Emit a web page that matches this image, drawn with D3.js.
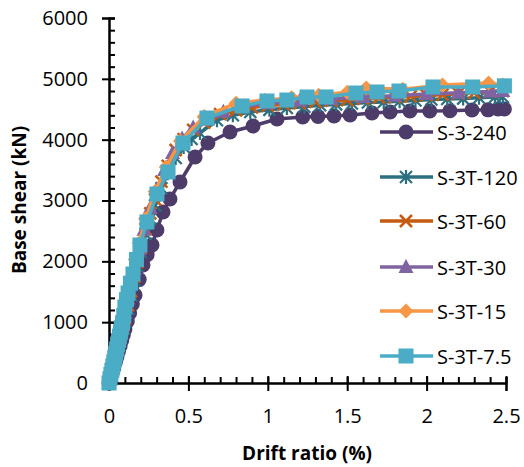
<!DOCTYPE html>
<html>
<head>
<meta charset="utf-8">
<script src="https://cdn.jsdelivr.net/npm/d3@7"></script>
<style>
  body { margin: 0; background: #fff; }
  text { font-family: "Open Sans", sans-serif; }
</style>
</head>
<body>
<script>
"use strict";

// Size of the picture
let w = 524;
let h = 467;

// [drift ratio (%), base shear (kN)]
const s3_240 = [[0,0],[0.01,80],[0.02,165],[0.03,250],[0.04,340],[0.05,430],[0.06,520],[0.07,610],
  [0.08,700],[0.09,790],[0.10,880],[0.115,1010],[0.13,1150],[0.147,1300],[0.164,1447],[0.19,1700],
  [0.214,1940],[0.24,2110],[0.271,2269],[0.302,2515],[0.34,2811],[0.384,3025],[0.447,3304],
  [0.542,3715],[0.623,3945],[0.762,4126],[0.907,4225],[1.058,4340],[1.22,4373],[1.316,4380],
  [1.417,4389],[1.518,4406],[1.656,4439],[1.77,4455],[1.895,4472],[2.02,4472],[2.147,4475],
  [2.286,4488],[2.387,4490],[2.45,4504],[2.49,4504]];

const s3t_120 = [[0,0],[0.01,100],[0.02,200],[0.03,300],[0.04,400],[0.05,500],[0.06,600],[0.07,700],
  [0.08,800],[0.09,900],[0.10,1010],[0.12,1220],[0.14,1440],[0.16,1680],[0.18,1920],[0.20,2150],
  [0.23,2450],[0.26,2700],[0.29,2920],[0.33,3200],[0.37,3450],[0.42,3700],[0.47,3880],[0.52,4010],
  [0.573,4110],[0.68,4320],[0.78,4400],[0.89,4455],[1.01,4490],[1.12,4520],[1.23,4540],[1.33,4565],
  [1.43,4580],[1.53,4595],[1.63,4610],[1.73,4620],[1.83,4630],[1.93,4645],[2.03,4660],[2.13,4670],
  [2.23,4675],[2.33,4688],[2.43,4700],[2.48,4700]];

const s3t_60 = [[0,0],[0.01,105],[0.02,210],[0.03,315],[0.04,420],[0.05,525],[0.06,630],[0.07,735],
  [0.08,840],[0.09,945],[0.10,1060],[0.12,1280],[0.14,1510],[0.16,1750],[0.18,1990],[0.20,2220],
  [0.23,2530],[0.26,2790],[0.29,3020],[0.33,3310],[0.37,3570],[0.42,3830],[0.47,4010],[0.53,4160],
  [0.6,4280],[0.7,4420],[0.8,4480],[0.9,4530],[1.0,4560],[1.1,4580],[1.2,4600],[1.3,4620],
  [1.4,4640],[1.5,4650],[1.6,4670],[1.7,4690],[1.8,4700],[1.9,4710],[2.0,4730],[2.1,4740],
  [2.2,4760],[2.3,4770],[2.4,4790],[2.48,4800]];

const s3t_30 = [[0,0],[0.01,115],[0.02,230],[0.03,345],[0.04,460],[0.05,575],[0.06,690],[0.07,805],
  [0.08,920],[0.09,1035],[0.10,1150],[0.12,1390],[0.14,1630],[0.16,1880],[0.19,2200],[0.22,2520],
  [0.26,2880],[0.30,3180],[0.35,3500],[0.40,3780],[0.46,4020],[0.53,4200],[0.62,4330],[0.72,4460],
  [0.84,4540],[1.0,4600],[1.2,4640],[1.4,4670],[1.6,4700],[1.8,4720],[2.0,4750],[2.2,4770],
  [2.4,4790],[2.48,4800]];

const s3t_15 = [[0,0],[0.01,125],[0.02,250],[0.03,375],[0.04,500],[0.05,625],[0.06,750],[0.07,870],
  [0.08,990],[0.09,1110],[0.10,1230],[0.12,1480],[0.14,1740],[0.165,2030],[0.19,2300],[0.23,2700],
  [0.29,3150],[0.36,3550],[0.45,3980],[0.6,4380],[0.8,4600],[0.98,4650],[1.15,4690],[1.32,4730],
  [1.5,4780],[1.62,4850],[1.85,4830],[2.1,4900],[2.39,4932],[2.48,4900]];

const s3t_7_5 = [[0,0],[0.006,70],[0.012,140],[0.018,210],[0.024,280],[0.03,350],[0.036,420],
  [0.042,490],[0.048,560],[0.054,630],[0.06,700],[0.066,770],[0.072,840],[0.078,910],[0.085,990],
  [0.093,1110],[0.10,1249],[0.11,1370],[0.12,1480],[0.135,1640],[0.151,1792],[0.173,2030],
  [0.195,2269],[0.239,2647],[0.302,3107],[0.372,3469],[0.466,3945],[0.617,4356],[0.838,4554],
  [0.995,4636],[1.12,4652],[1.247,4702],[1.367,4702],[1.555,4767],[1.688,4784],[1.826,4800],
  [2.04,4866],[2.29,4866],[2.49,4885]];

const seriesNames = ["S-3-240", "S-3T-120", "S-3T-60", "S-3T-30", "S-3T-15", "S-3T-7.5"];
const seriesData = [s3_240, s3t_120, s3t_60, s3t_30, s3t_15, s3t_7_5];
const seriesColors = ["#4d3b69", "#2c6f80", "#c55a11", "#8064a2", "#f79646", "#4bacc6"];
const seriesMarkers = ["circle", "star", "x", "triangle", "diamond", "square"];

const xTicks = [0, 0.5, 1, 1.5, 2, 2.5];
const xTickLabels = ["0", "0.5", "1", "1.5", "2", "2.5"];
const yTicks = [0, 1000, 2000, 3000, 4000, 5000, 6000];

let x = d3.scaleLinear().domain([0, 2.5]).range([109, 506]);
let y = d3.scaleLinear().domain([0, 6000]).range([383, 18]);

let svg = d3.select("body").append("svg")
    .attr("width", w)
    .attr("height", h);

// Axes: minor ticks inside, major ticks crossing the line
let xMinor = svg.append("g")
    .attr("transform", `translate(0,${y(0)})`)
    .call(d3.axisBottom(x).tickValues(d3.range(0, 2.51, 0.1)).tickSize(-6).tickFormat(""));
let xMajor = svg.append("g")
    .attr("transform", `translate(0,${y(0)})`)
    .call(d3.axisBottom(x).tickValues(xTicks).tickSize(8).tickPadding(18)
        .tickFormat((d, i) => xTickLabels[i]));
xMajor.selectAll(".tick line").attr("y1", -7);

let yMinor = svg.append("g")
    .attr("transform", `translate(${x(0)},0)`)
    .call(d3.axisLeft(y).tickValues(d3.range(0, 6001, 200)).tickSize(-6).tickFormat(""));
let yMajor = svg.append("g")
    .attr("transform", `translate(${x(0)},0)`)
    .call(d3.axisLeft(y).tickValues(yTicks).tickSize(7).tickPadding(14).tickFormat(d3.format("d")));
yMajor.selectAll(".tick line").attr("x1", 6);

for (let g of [xMinor, xMajor, yMinor, yMajor]) {
    g.selectAll("path.domain").attr("stroke", "#000").attr("stroke-width", 2);
    g.selectAll(".tick line").attr("stroke", "#000").attr("stroke-width", 2);
    g.selectAll(".tick text").attr("fill", "#000").style("font-size", "20px")
        .style("font-family", "'Open Sans', sans-serif");
}
xMajor.selectAll(".tick text").attr("dy", "0.71em");

// Axis titles
svg.append("text")
    .attr("x", 307).attr("y", 453)
    .attr("text-anchor", "middle").attr("dominant-baseline", "central")
    .style("font-size", "19px").style("font-weight", "bold")
    .text("Drift ratio (%)");
svg.append("text")
    .attr("transform", "translate(19,200) rotate(-90)")
    .attr("text-anchor", "middle").attr("dominant-baseline", "central")
    .style("font-size", "19px").style("font-weight", "bold")
    .text("Base shear (kN)");

// Draw one marker of a given kind into a group
function drawMarker(g, kind, color) {
    if (kind === "circle") {
        g.append("circle").attr("r", 7.5).attr("fill", color);
    } else if (kind === "square") {
        g.append("rect").attr("x", -7.5).attr("y", -7.5).attr("width", 15).attr("height", 15).attr("fill", color);
    } else if (kind === "diamond") {
        g.append("path").attr("d", "M0,-7.5L7.5,0L0,7.5L-7.5,0Z").attr("fill", color);
    } else if (kind === "triangle") {
        g.append("path").attr("d", "M0,-8L7.5,6L-7.5,6Z").attr("fill", color);
    } else if (kind === "x") {
        g.append("path").attr("d", "M-6,-6L6,6M-6,6L6,-6")
            .attr("stroke", color).attr("stroke-width", 2.5).attr("fill", "none");
    } else if (kind === "star") {
        g.append("path").attr("d", "M-6,-6L6,6M-6,6L6,-6M0,-7L0,7")
            .attr("stroke", color).attr("stroke-width", 2.2).attr("fill", "none");
    }
}

let line = d3.line().x(d => x(d[0])).y(d => y(d[1]));

seriesData.forEach((data, i) => {
    let g = svg.append("g").attr("class", "series");
    g.append("path")
        .datum(data)
        .attr("d", line)
        .attr("fill", "none")
        .attr("stroke", seriesColors[i])
        .attr("stroke-width", 3.5)
        .attr("stroke-linejoin", "round");
    g.selectAll("g.pt")
        .data(data)
        .enter().append("g")
        .attr("class", "pt")
        .attr("transform", d => `translate(${x(d[0])},${y(d[1])})`)
        .each(function() { drawMarker(d3.select(this), seriesMarkers[i], seriesColors[i]); });
});

// Legend
let legendRows = [132, 177, 221, 267, 311, 356];
seriesNames.forEach((name, i) => {
    let g = svg.append("g").attr("transform", `translate(0,${legendRows[i]})`);
    g.append("line")
        .attr("x1", 380).attr("x2", 433)
        .attr("stroke", seriesColors[i]).attr("stroke-width", 3.5);
    let m = g.append("g").attr("transform", "translate(406,0)");
    drawMarker(m, seriesMarkers[i], seriesColors[i]);
    g.append("text")
        .attr("x", 437).attr("y", 0)
        .attr("dominant-baseline", "central")
        .style("font-size", "20px")
        .text(name);
});
</script>
</body>
</html>
